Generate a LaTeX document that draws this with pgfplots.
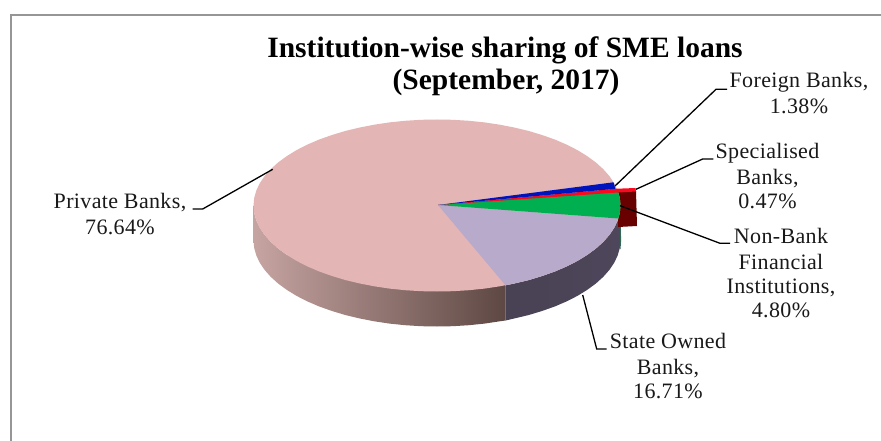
\documentclass[border=0pt]{standalone}
\usepackage{pgfplots}
\pgfplotsset{compat=1.18}
\usepackage{fontspec}
\setmainfont{Liberation Serif}
\definecolor{pinktop}{RGB}{227,181,181}
\definecolor{lilac}{RGB}{183,170,202}
\definecolor{sideA}{RGB}{198,164,162}
\definecolor{sideB}{RGB}{160,126,124}
\definecolor{sideC}{RGB}{94,72,67}
\definecolor{sideD}{RGB}{72,66,84}
\definecolor{sideE}{RGB}{78,70,90}
\definecolor{gframe}{RGB}{150,150,150}
\definecolor{gr}{RGB}{0,176,80}
\definecolor{darkgr}{RGB}{50,105,85}
\definecolor{bl}{RGB}{0,20,190}
\definecolor{rd}{RGB}{250,10,30}
\definecolor{drd}{RGB}{105,0,0}
\definecolor{txt}{RGB}{25,25,25}
\newcommand{\lab}{\color{txt}\fontsize{22}{25}\selectfont\addfontfeature{LetterSpace=1.6}}
\newcommand{\ttl}{\fontsize{29.5}{32}\selectfont\bfseries}
\begin{document}
\begin{tikzpicture}
\begin{axis}[
  at={(0,0)}, anchor=south west,
  width=881pt, height=441pt, scale only axis,
  xmin=0, xmax=881, ymin=0, ymax=441, y dir=reverse,
  hide axis, clip=true,
  every node/.style={inner sep=0pt, outer sep=0pt},
]
% canvas and frame
\addplot[draw=none, fill=white, forget plot] coordinates {(0,0) (881,0) (881,441) (0,441)} --cycle;
\addplot[draw=gframe, line width=2pt, no marks, forget plot] coordinates {(881,15) (10.5,15) (10.5,441)};
% side wall, pink part
\addplot[draw=none, left color=sideA, middle color=sideB, right color=sideC, forget plot] coordinates {
(253.5,205.5)(254.2,213.0)(256.3,220.4)(259.8,227.8)(264.6,234.9)(270.7,241.8)(278.1,248.5)(286.7,254.8)
(505.5,285.3)(505.5,320.5)
(499.8,321.3)(484.5,323.6)(468.9,325.2)(453.0,326.2)(437.0,326.5)(421.0,326.2)(405.1,325.2)(389.5,323.6)
(374.2,321.3)(359.4,318.4)(345.2,315.0)(331.7,310.9)(319.0,306.4)(307.2,301.3)(296.4,295.8)(286.7,289.8)
(278.1,283.5)(270.7,276.8)(264.6,269.9)(259.8,262.8)(256.3,255.4)(254.2,248.0)(253.5,240.5)
} --cycle;
% side wall, lilac part
\addplot[draw=none, left color=sideD, right color=sideE, forget plot] coordinates {
(505.5,285.3)(514.6,283.4)(528.8,280.0)(542.3,275.9)(555.0,271.4)(566.8,266.3)(577.6,260.8)(587.3,254.8)
(595.9,248.5)(603.3,241.8)(609.4,234.9)(614.2,227.8)(617.7,220.4)(619.8,213.0)(620.5,205.5)
(620.5,240.5)(619.8,248.0)(617.7,255.4)(614.2,262.8)(609.4,269.9)(603.3,276.8)(595.9,283.5)(587.3,289.8)
(577.6,295.8)(566.8,301.3)(555.0,306.4)(542.3,310.9)(528.8,315.0)(514.6,318.4)(505.5,320.5)
} --cycle;
\addplot[draw=darkgr, line width=1pt, no marks, forget plot] coordinates {(620.2,222)(620.6,241)(620,249)};
% dark red block
\addplot[draw=none, fill=drd, forget plot] coordinates {(618,192)(636,191)(637,226)(618,227)} --cycle;
% pie top: Private Banks
\addplot[draw=none, fill=pinktop, forget plot] coordinates {
(620.5,205.5)(619.8,213.0)(617.7,220.4)(614.2,227.8)(609.4,234.9)(603.3,241.8)(595.9,248.5)(587.3,254.8)
(577.6,260.8)(566.8,266.3)(555.0,271.4)(542.3,275.9)(528.8,280.0)(514.6,283.4)(499.8,286.3)(484.5,288.6)
(468.9,290.2)(453.0,291.2)(437.0,291.5)(421.0,291.2)(405.1,290.2)(389.5,288.6)(374.2,286.3)(359.4,283.4)
(345.2,280.0)(331.7,275.9)(319.0,271.4)(307.2,266.3)(296.4,260.8)(286.7,254.8)(278.1,248.5)(270.7,241.8)
(264.6,234.9)(259.8,227.8)(256.3,220.4)(254.2,213.0)(253.5,205.5)(254.2,198.0)(256.3,190.6)(259.8,183.2)
(264.6,176.1)(270.7,169.2)(278.1,162.5)(286.7,156.2)(296.4,150.2)(307.2,144.7)(319.0,139.6)(331.7,135.1)
(345.2,131.0)(359.4,127.6)(374.2,124.7)(389.5,122.4)(405.1,120.8)(421.0,119.8)(437.0,119.5)(453.0,119.8)
(468.9,120.8)(484.5,122.4)(499.8,124.7)(514.6,127.6)(528.8,131.0)(542.3,135.1)(555.0,139.6)(566.8,144.7)
(577.6,150.2)(587.3,156.2)(595.9,162.5)(603.3,169.2)(609.4,176.1)(614.2,183.2)(617.7,190.6)(619.8,198.0)
} --cycle;
% State Owned Banks
\addplot[draw=none, fill=lilac, forget plot] coordinates {
(438,205)(618.2,218.5)(617.7,220.4)(614.2,227.8)(609.4,234.9)(603.3,241.8)(595.9,248.5)(587.3,254.8)
(577.6,260.8)(566.8,266.3)(555.0,271.4)(542.3,275.9)(528.8,280.0)(514.6,283.4)(505.5,285.3)
} --cycle;
% Non-Bank Financial Institutions
\addplot[draw=none, fill=gr, forget plot] coordinates {
(438,205)(617.7,190.6)(619.8,198.0)(620.5,205.5)(619.8,213.0)(618.2,218.5)
} --cycle;
% Specialised Banks
\addplot[draw=none, fill=rd, forget plot] coordinates {
(438,205)(615,188.8)(635.5,188)(636,191.5)(618,192.5)
} --cycle;
% Foreign Banks
\addplot[draw=none, fill=bl, forget plot] coordinates {
(438,205)(613.5,182.3)(615.5,188.8)
} --cycle;
% leader lines
\addplot[black, line width=1.3pt, no marks, forget plot] coordinates {(615,186)(716,89.3)(727,89.3)};
\addplot[black, line width=1.3pt, no marks, forget plot] coordinates {(636,189.3)(702.7,159)(713.3,159)};
\addplot[black, line width=1.3pt, no marks, forget plot] coordinates {(620,205.7)(720,243.3)(730,243.3)};
\addplot[black, line width=1.3pt, no marks, forget plot] coordinates {(582.7,295)(596.7,349)(606.7,349)};
\addplot[black, line width=1.3pt, no marks, forget plot] coordinates {(272.7,169.3)(202.7,209)(192.7,209)};
% title
\node[anchor=base] at (axis cs:505,58) {\ttl Institution-wise sharing of SME loans};
\node[anchor=base] at (axis cs:506,90) {\ttl (September, 2017)};
% labels
\node[anchor=base] at (axis cs:799,88) {\lab Foreign Banks,};
\node[anchor=base] at (axis cs:799,114) {\lab 1.38\%};
\node[anchor=base] at (axis cs:767.5,158) {\lab Specialised};
\node[anchor=base] at (axis cs:767.5,185) {\lab Banks,};
\node[anchor=base] at (axis cs:767.5,208) {\lab 0.47\%};
\node[anchor=base] at (axis cs:781,243) {\lab Non-Bank};
\node[anchor=base] at (axis cs:781,269) {\lab Financial};
\node[anchor=base] at (axis cs:781,293) {\lab Institutions,};
\node[anchor=base] at (axis cs:781,317) {\lab 4.80\%};
\node[anchor=base] at (axis cs:668,348) {\lab State Owned};
\node[anchor=base] at (axis cs:668,374) {\lab Banks,};
\node[anchor=base] at (axis cs:668,398) {\lab 16.71\%};
\node[anchor=base] at (axis cs:120,208) {\lab Private Banks,};
\node[anchor=base] at (axis cs:120,234) {\lab 76.64\%};
\end{axis}
\end{tikzpicture}
\end{document}
